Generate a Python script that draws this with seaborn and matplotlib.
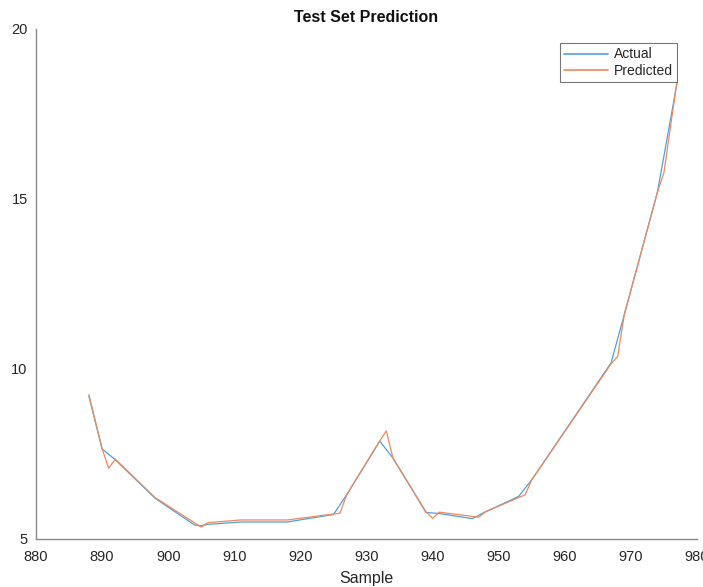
import numpy as np
import pandas as pd
import seaborn as sns
import matplotlib
matplotlib.use("Agg")
import matplotlib.pyplot as plt

# Data
actual_x = [888, 890, 892, 898, 904, 905, 906, 911, 918, 925, 927, 932, 934,
            939, 941, 946, 948, 953, 955, 967, 969, 974, 976, 977]
actual_y = [9.20, 7.65, 7.33, 6.20, 5.41, 5.39, 5.43, 5.50, 5.50, 5.72, 6.30, 7.88, 7.38,
            5.78, 5.75, 5.60, 5.80, 6.25, 6.74, 10.18, 11.60, 15.19, 17.35, 18.43]

pred_x = [888, 890, 891, 892, 898, 905, 906, 911, 918, 926, 927, 932, 933, 934,
          939, 940, 941, 947, 948, 954, 955, 967, 968, 969, 974, 975, 977]
pred_y = [9.25, 7.65, 7.08, 7.35, 6.22, 5.35, 5.48, 5.56, 5.56, 5.76, 6.30, 7.88, 8.18, 7.38,
          5.80, 5.61, 5.79, 5.64, 5.80, 6.30, 6.74, 10.15, 10.37, 11.60, 15.19, 15.78, 18.50]

series_names = ["Actual", "Predicted"]
colors = ["#4FA0DA", "#EC8A5E"]
xticks = list(range(880, 981, 10))
yticks = [5, 10, 15, 20]

df = pd.concat([
    pd.DataFrame({"Sample": actual_x, "Value": actual_y, "Series": series_names[0]}),
    pd.DataFrame({"Sample": pred_x, "Value": pred_y, "Series": series_names[1]}),
], ignore_index=True)

sns.set_theme(style="white")
plt.rcParams["font.family"] = ["Liberation Sans", "DejaVu Sans"]

fig = plt.figure(figsize=(7.03, 5.87), dpi=100)
ax = fig.add_axes([36 / 703, (587 - 539) / 587, (697 - 36) / 703, (539 - 29) / 587])

sns.lineplot(data=df, x="Sample", y="Value", hue="Series", hue_order=series_names,
             palette=colors, linewidth=0.9, sort=False, estimator=None, ax=ax)

ax.set_xlim(880, 980)
ax.set_ylim(5, 20)
ax.set_xticks(xticks)
ax.set_yticks(yticks)
ax.tick_params(direction="in", length=5, width=0.8, colors="#8a8a8a",
               labelcolor="#262626", labelsize=10.5)
ax.tick_params(axis="x", pad=8)
ax.tick_params(axis="y", pad=6)
for s in ["top", "right"]:
    ax.spines[s].set_visible(False)
for s in ["left", "bottom"]:
    ax.spines[s].set_color("#8a8a8a")
    ax.spines[s].set_linewidth(1.0)

ax.set_xlabel("Sample", fontsize=11.5, color="#262626", labelpad=5)
ax.set_ylabel("")
ax.set_title("Test Set Prediction", fontsize=11.5, fontweight="bold", color="#111111", pad=5)

leg = ax.legend(loc="upper right", bbox_to_anchor=(0.97, 0.972), fontsize=10,
                frameon=True, fancybox=False, handlelength=3.2, borderpad=0.3,
                labelspacing=0.15, handletextpad=0.4, borderaxespad=0)
leg.get_frame().set_edgecolor("#555555")
leg.get_frame().set_linewidth(0.8)
for line in leg.get_lines():
    line.set_linewidth(1.2)

fig.savefig("out.png", dpi=100)
